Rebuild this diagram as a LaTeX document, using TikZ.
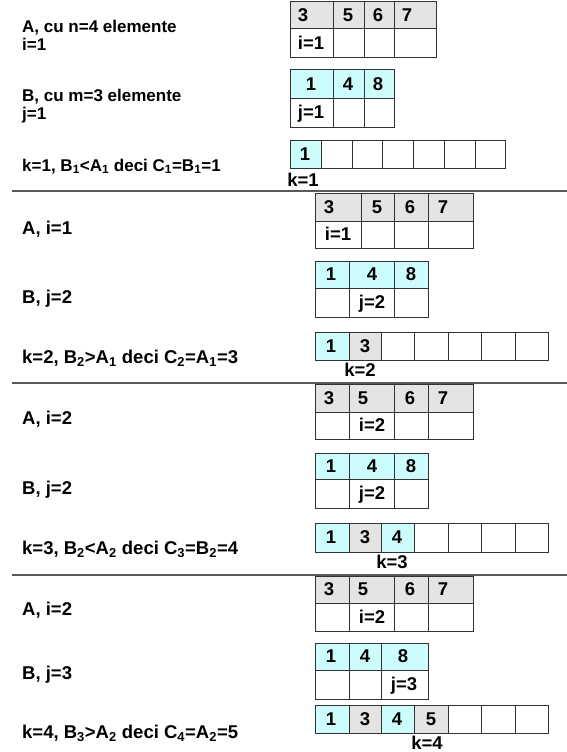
\documentclass[tikz,border=0pt]{standalone}
\usepackage{fontspec}
\setmainfont{Liberation Sans}
\usepackage{tikz}
\definecolor{cellgray}{HTML}{E4E4E4}
\definecolor{cellcyan}{HTML}{CCFCFC}
\definecolor{linegray}{HTML}{333333}
\tikzset{
	cell box/.style={
		draw=linegray,
		line width=1pt
	},
	cell text/.style={
		anchor=base,
		inner sep=0pt,
		font=\bfseries\fontsize{18.5}{20}\selectfont
	},
	small text/.style={
		font=\bfseries\fontsize{17}{18}\selectfont
	},
	step text/.style={
		anchor=base west,
		align=left,
		inner sep=0pt,
		font=\bfseries\fontsize{18.5}{20}\selectfont
	},
	sep line/.style={
		draw=black!65,
		line width=1.5pt
	}
}
\newcommand{\tabrow}[4]{% name, top, bottom, cells xa/xb/tx/text/fill
	\foreach \xa/\xb/\tx/\txt/\f [count=\n] in {#4}{
		\draw[cell box, fill=\f] (\xa,#2) rectangle (\xb,#3);
		\node[cell text] (#1-\n) at (\tx,{(#2+#3)/2+6.4}) {\txt};
	}
}

\begin{document}
\begin{tikzpicture}[x=1pt, y=-1pt]
	\useasboundingbox[fill=white] (0,0) rectangle (567,752);

	% pas 1
	\node[step text, small text] (s1a) at (22,51) {A, cu n=4 elemente\\i=1};
	\node[step text, small text] (s1b) at (22,119) {B, cu m=3 elemente\\j=1};
	\node[step text, small text] (s1c) at (22,171) {k=1, B\textsubscript{1}<A\textsubscript{1} deci C\textsubscript{1}=B\textsubscript{1}=1};
	\tabrow{a1}{2}{29}{290/333/303/3/cellgray, 333/364/348/5/cellgray, 364/394/378/6/cellgray, 394/436/407/7/cellgray}
	\tabrow{ai1}{29}{58}{290/333/311/i=1/white, 333/364/348//white, 364/394/379//white, 394/436/415//white}
	\tabrow{b1}{70}{98}{290/333/311/1/cellcyan, 333/364/348/4/cellcyan, 364/394/378/8/cellcyan}
	\tabrow{bj1}{98}{127}{290/333/311/j=1/white, 333/364/348//white, 364/394/379//white}
	\tabrow{c1}{140}{168}{290/321/305/1/cellcyan, 321/352/336//white, 352/382/367//white, 382/413/397//white, 413/444/428//white, 444/475/459//white, 475/505/490//white}
	\node[cell text] (k1) at (303,186) {k=1};

	\draw[sep line] (12,191) -- (567,191);

	% pas 2
	\node[step text] (s2a) at (22,234.5) {A, i=1};
	\node[step text] (s2b) at (22,303.5) {B, j=2};
	\node[step text] (s2c) at (22,363.5) {k=2, B\textsubscript{2}>A\textsubscript{1} deci C\textsubscript{2}=A\textsubscript{1}=3};
	\tabrow{a2}{193}{221}{315/361/329/3/cellgray, 361/394/377/5/cellgray, 394/428/410/6/cellgray, 428/473/443/7/cellgray}
	\tabrow{ai2}{221}{248}{315/361/338/i=1/white, 361/394/377//white, 394/428/411//white, 428/473/450//white}
	\tabrow{b2}{261}{288}{315/349/331/1/cellcyan, 349/394/372/4/cellcyan, 394/428/411/8/cellcyan}
	\tabrow{bj2}{288}{317}{315/349/332//white, 349/394/372/j=2/white, 394/428/411//white}
	\tabrow{c2}{332}{360}{315/349/331/1/cellcyan, 349/381/365/3/cellgray, 381/414/397//white, 414/448/431//white, 448/481/464//white, 481/515/498//white, 515/548/531//white}
	\node[cell text] (k2) at (360,376.5) {k=2};

	\draw[sep line] (12,383) -- (567,383);

	% pas 3
	\node[step text] (s3a) at (22,424.5) {A, i=2};
	\node[step text] (s3b) at (22,494.5) {B, j=2};
	\node[step text] (s3c) at (22,554.5) {k=3, B\textsubscript{2}<A\textsubscript{2} deci C\textsubscript{3}=B\textsubscript{2}=4};
	\tabrow{a3}{384}{412}{315/349/329/3/cellgray, 349/394/363/5/cellgray, 394/428/410/6/cellgray, 428/473/443/7/cellgray}
	\tabrow{ai3}{412}{439}{315/349/332//white, 349/394/372/i=2/white, 394/428/411//white, 428/473/450//white}
	\tabrow{b3}{453}{479}{315/349/331/1/cellcyan, 349/394/372/4/cellcyan, 394/428/411/8/cellcyan}
	\tabrow{bj3}{479}{508}{315/349/332//white, 349/394/372/j=2/white, 394/428/411//white}
	\tabrow{c3}{523}{552}{315/349/331/1/cellcyan, 349/381/365/3/cellgray, 381/414/397/4/cellcyan, 414/448/431//white, 448/481/464//white, 481/515/498//white, 515/548/531//white}
	\node[cell text] (k3) at (392,568.5) {k=3};

	\draw[sep line] (12,575) -- (567,575);

	% pas 4
	\node[step text] (s4a) at (22,615.5) {A, i=2};
	\node[step text] (s4b) at (22,679.5) {B, j=3};
	\node[step text] (s4c) at (22,738.5) {k=4, B\textsubscript{3}>A\textsubscript{2} deci C\textsubscript{4}=A\textsubscript{2}=5};
	\tabrow{a4}{576}{603}{315/349/329/3/cellgray, 349/394/363/5/cellgray, 394/428/410/6/cellgray, 428/473/443/7/cellgray}
	\tabrow{ai4}{603}{631}{315/349/332//white, 349/394/372/i=2/white, 394/428/411//white, 428/473/450//white}
	\tabrow{b4}{643}{670}{315/349/331/1/cellcyan, 349/381/365/4/cellcyan, 381/428/403/8/cellcyan}
	\tabrow{bj4}{670}{699}{315/349/332//white, 349/381/365//white, 381/428/404/j=3/white}
	\tabrow{c4}{705}{733}{315/349/331/1/cellcyan, 349/381/365/3/cellgray, 381/414/397/4/cellcyan, 414/448/431/5/cellgray, 448/481/464//white, 481/515/498//white, 515/548/531//white}
	\node[cell text] (k4) at (427,749.5) {k=4};
\end{tikzpicture}
\end{document}
